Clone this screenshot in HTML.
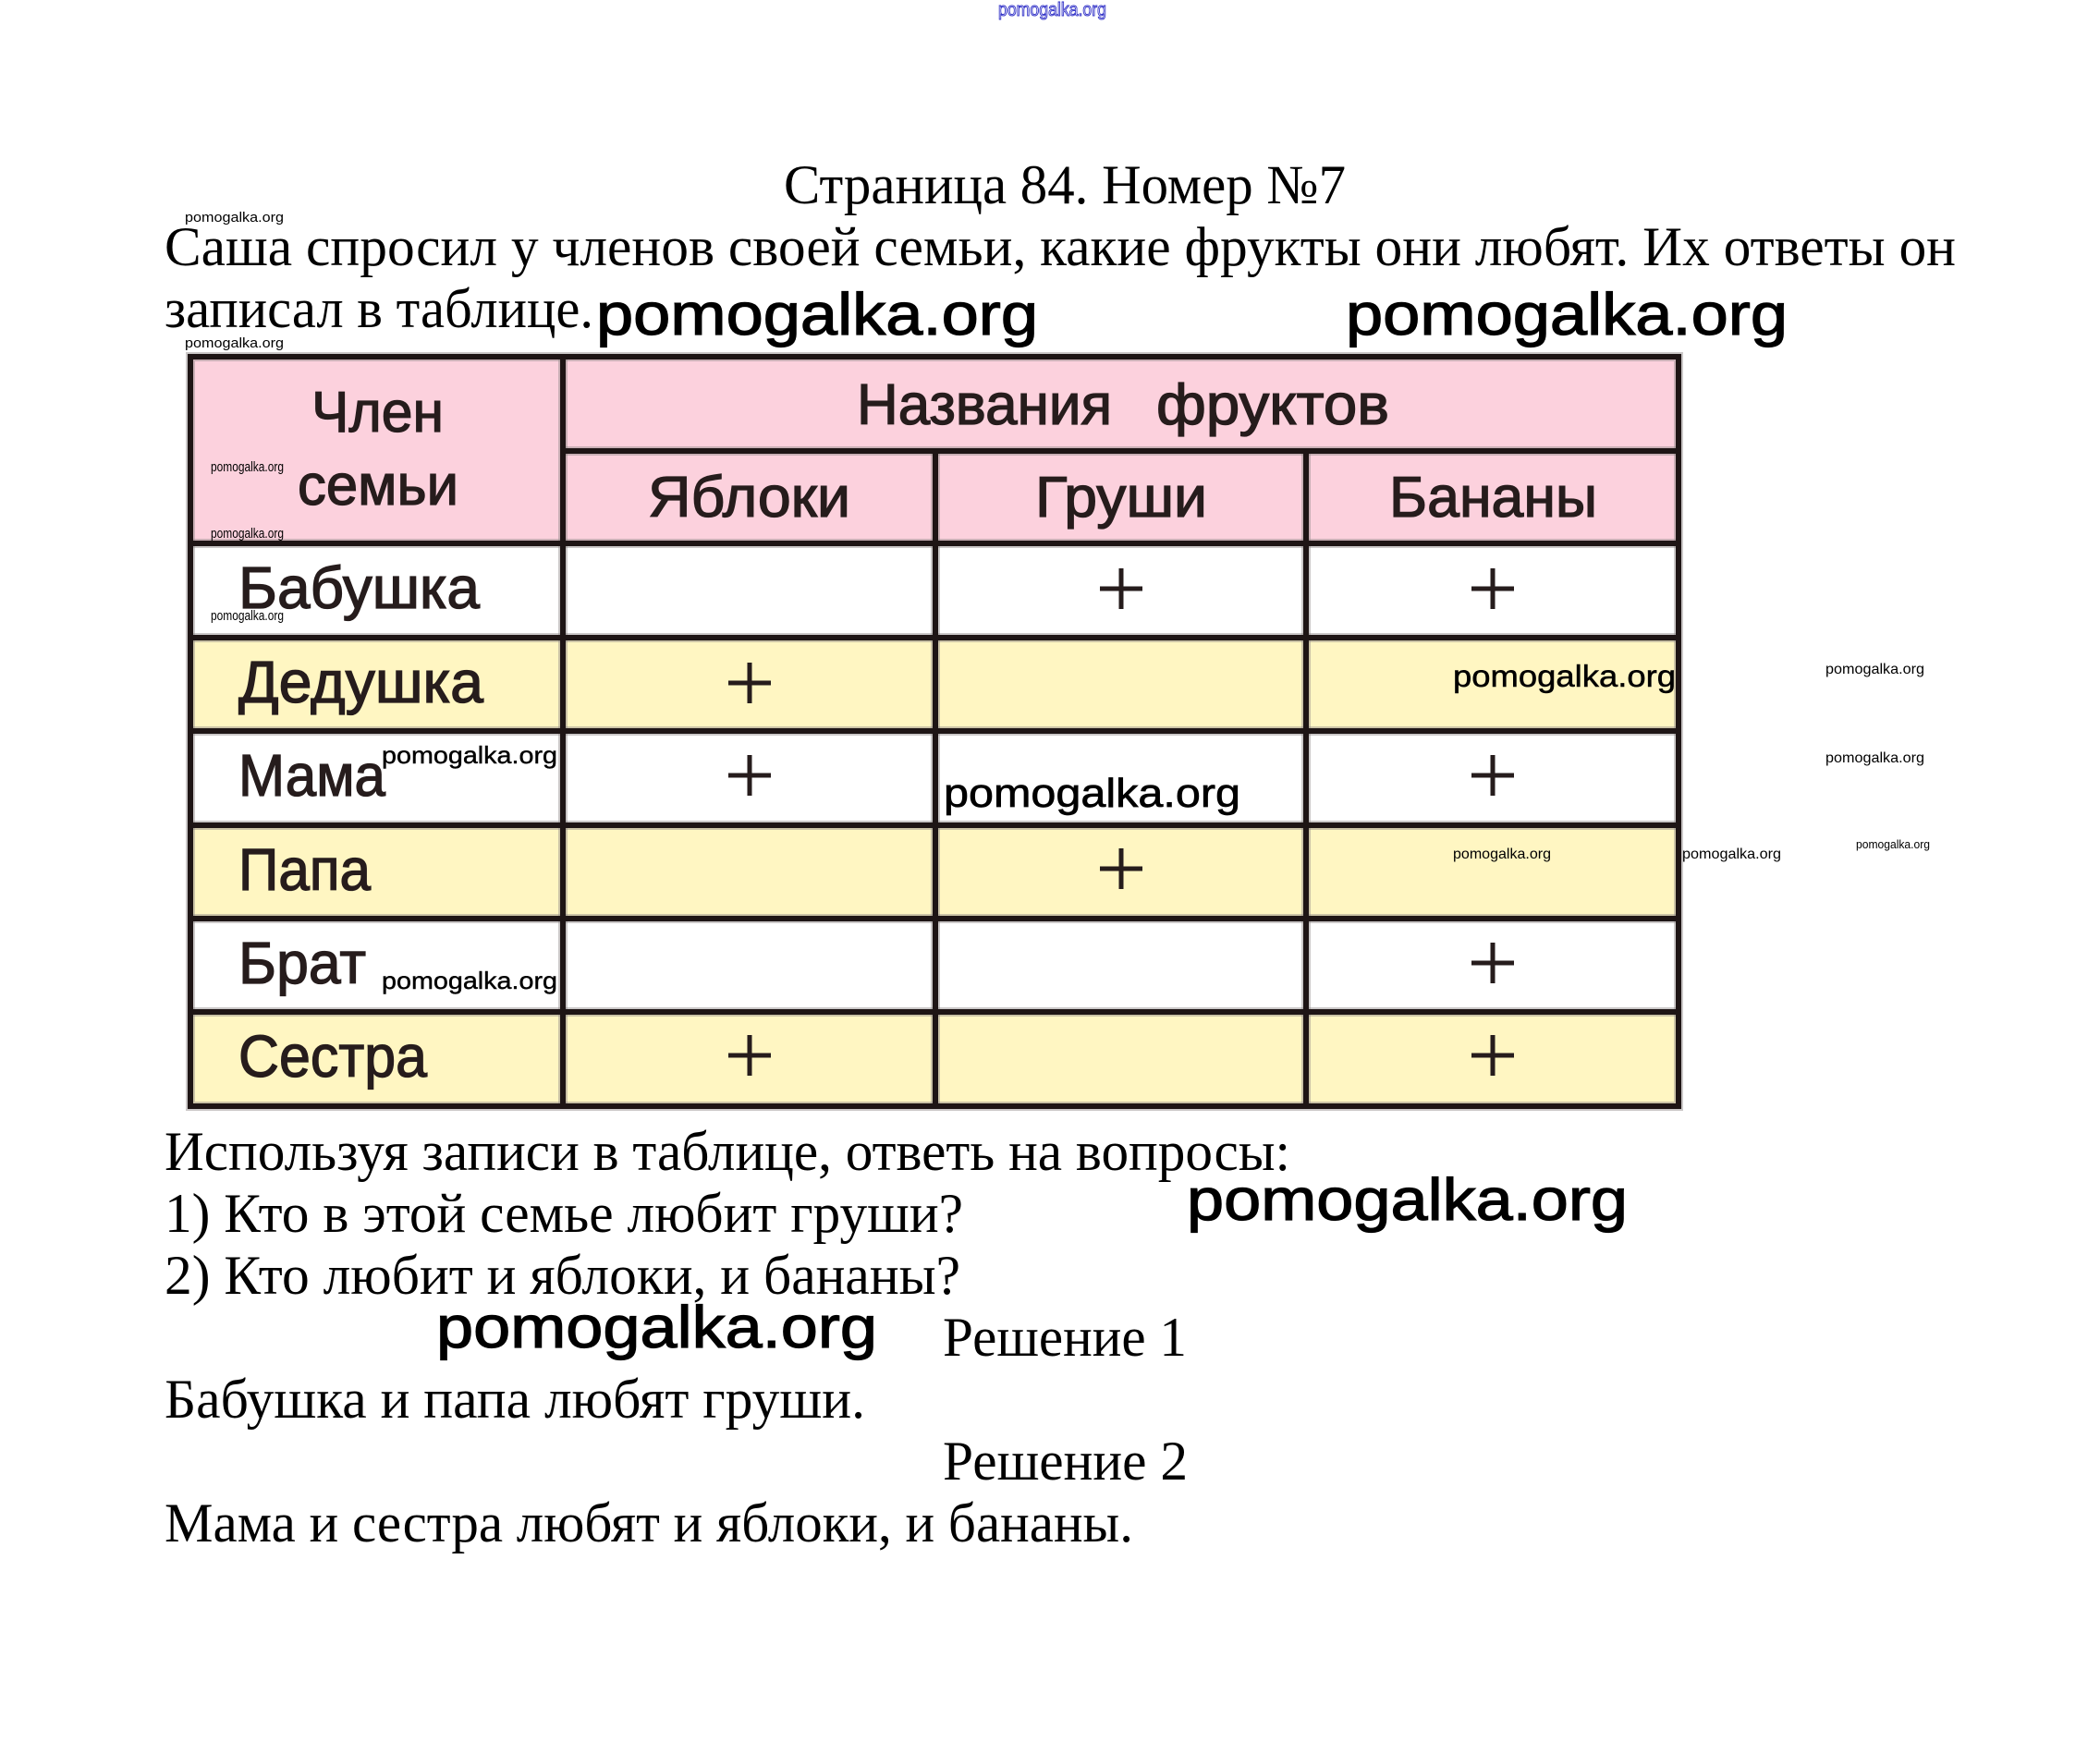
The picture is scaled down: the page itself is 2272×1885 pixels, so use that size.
<!DOCTYPE html>
<html>
<head>
<meta charset="utf-8">
<style>
  html, body { margin:0; padding:0; background:#ffffff; }
  body { width:2272px; height:1885px; overflow:hidden; }
  svg { display:block; }
  .serif { font-family:"Liberation Serif", "Noto Serif CJK SC", serif; fill:#000; }
  .wm { font-family:"Liberation Sans", "Noto Sans CJK SC", sans-serif; fill:#000; }
  .tb { font-family:"Liberation Sans", "Noto Sans CJK SC", sans-serif; fill:#261c1c; stroke:#261c1c; stroke-width:1.3; }
</style>
</head>
<body>
<svg width="2272" height="1885" viewBox="0 0 2272 1885" xmlns="http://www.w3.org/2000/svg">
  <rect x="0" y="0" width="2272" height="1885" fill="#ffffff"/>

  <!-- top blue watermark -->
  <text class="wm" x="1080" y="17" font-size="20" textLength="117" lengthAdjust="spacingAndGlyphs" style="fill:#ffffff;stroke:#3434c8;stroke-width:1">pomogalka.org</text>

  <!-- Title -->
  <text class="serif" x="848" y="220" font-size="60" textLength="608" lengthAdjust="spacingAndGlyphs">Страница 84. Номер №7</text>

  <!-- small watermark above line 1 -->
  <text class="wm" x="200" y="240" font-size="15" textLength="107" lengthAdjust="spacingAndGlyphs">pomogalka.org</text>

  <!-- Paragraph -->
  <text class="serif" x="178" y="287" font-size="60" textLength="1938" lengthAdjust="spacingAndGlyphs">Саша спросил у членов своей семьи, какие фрукты они любят. Их ответы он</text>
  <text class="serif" x="178" y="354" font-size="60" textLength="464" lengthAdjust="spacingAndGlyphs">записал в таблице.</text>

  <!-- big watermarks line 2 -->
  <text class="wm" x="645" y="362" font-size="64" textLength="478" lengthAdjust="spacingAndGlyphs" stroke="#000" stroke-width="1.2">pomogalka.org</text>
  <text class="wm" x="1456" y="362" font-size="64" textLength="478" lengthAdjust="spacingAndGlyphs" stroke="#000" stroke-width="1.2">pomogalka.org</text>

  <!-- small watermark above table -->
  <text class="wm" x="200" y="376" font-size="15" textLength="107" lengthAdjust="spacingAndGlyphs">pomogalka.org</text>

  <!-- ===== TABLE ===== -->
  <rect x="206" y="386" width="1610" height="202" fill="#fcd1dd"/>
  <rect x="206" y="588" width="1610" height="102" fill="#ffffff"/>
  <rect x="206" y="690" width="1610" height="101" fill="#fff6c2"/>
  <rect x="206" y="791" width="1610" height="102" fill="#ffffff"/>
  <rect x="206" y="893" width="1610" height="101" fill="#fff6c2"/>
  <rect x="206" y="994" width="1610" height="101" fill="#ffffff"/>
  <rect x="206" y="1095" width="1610" height="102" fill="#fff6c2"/>

  <g stroke="#8c8484" stroke-width="10" stroke-opacity="0.45" fill="none">
    <rect x="206" y="386" width="1610" height="811"/>
    <line x1="609" y1="386" x2="609" y2="1197"/>
    <line x1="1012" y1="488" x2="1012" y2="1197"/>
    <line x1="1413" y1="488" x2="1413" y2="1197"/>
    <line x1="609" y1="488" x2="1816" y2="488"/>
    <line x1="206" y1="588" x2="1816" y2="588"/>
    <line x1="206" y1="690" x2="1816" y2="690"/>
    <line x1="206" y1="791" x2="1816" y2="791"/>
    <line x1="206" y1="893" x2="1816" y2="893"/>
    <line x1="206" y1="994" x2="1816" y2="994"/>
    <line x1="206" y1="1095" x2="1816" y2="1095"/>
  </g>
  <g stroke="#1e1515" stroke-width="6" fill="none">
    <rect x="206" y="386" width="1610" height="811"/>
    <line x1="609" y1="386" x2="609" y2="1197"/>
    <line x1="1012" y1="488" x2="1012" y2="1197"/>
    <line x1="1413" y1="488" x2="1413" y2="1197"/>
    <line x1="609" y1="488" x2="1816" y2="488"/>
    <line x1="206" y1="588" x2="1816" y2="588"/>
    <line x1="206" y1="690" x2="1816" y2="690"/>
    <line x1="206" y1="791" x2="1816" y2="791"/>
    <line x1="206" y1="893" x2="1816" y2="893"/>
    <line x1="206" y1="994" x2="1816" y2="994"/>
    <line x1="206" y1="1095" x2="1816" y2="1095"/>
  </g>

  <!-- header text -->
  <text class="tb" x="337" y="467" font-size="62" textLength="143" lengthAdjust="spacingAndGlyphs">Член</text>
  <text class="tb" x="322" y="546" font-size="62" textLength="174" lengthAdjust="spacingAndGlyphs">семьи</text>
  <text class="tb" x="927" y="459" font-size="62" textLength="276" lengthAdjust="spacingAndGlyphs">Названия</text>
  <text class="tb" x="1251" y="459" font-size="62" textLength="252" lengthAdjust="spacingAndGlyphs">фруктов</text>
  <text class="tb" x="701" y="559" font-size="62" textLength="219" lengthAdjust="spacingAndGlyphs">Яблоки</text>
  <text class="tb" x="1120" y="559" font-size="62" textLength="186" lengthAdjust="spacingAndGlyphs">Груши</text>
  <text class="tb" x="1503" y="559" font-size="62" textLength="225" lengthAdjust="spacingAndGlyphs">Бананы</text>

  <!-- row labels -->
  <text class="tb" x="258" y="658" font-size="64" textLength="261" lengthAdjust="spacingAndGlyphs">Бабушка</text>
  <text class="tb" x="258" y="760" font-size="64" textLength="265" lengthAdjust="spacingAndGlyphs">Дедушка</text>
  <text class="tb" x="258" y="861" font-size="64" textLength="159" lengthAdjust="spacingAndGlyphs">Мама</text>
  <text class="tb" x="258" y="963" font-size="64" textLength="143" lengthAdjust="spacingAndGlyphs">Папа</text>
  <text class="tb" x="258" y="1064" font-size="64" textLength="138" lengthAdjust="spacingAndGlyphs">Брат</text>
  <text class="tb" x="258" y="1165" font-size="64" textLength="204" lengthAdjust="spacingAndGlyphs">Сестра</text>

  <!-- plus signs -->
  <g stroke="#261c1c" stroke-width="5" fill="none">
    <line x1="1190" y1="637" x2="1236" y2="637"/><line x1="1213" y1="615" x2="1213" y2="659"/>
    <line x1="1592" y1="637" x2="1638" y2="637"/><line x1="1615" y1="615" x2="1615" y2="659"/>
    <line x1="788" y1="739" x2="834" y2="739"/><line x1="811" y1="717" x2="811" y2="761"/>
    <line x1="788" y1="839" x2="834" y2="839"/><line x1="811" y1="817" x2="811" y2="861"/>
    <line x1="1592" y1="839" x2="1638" y2="839"/><line x1="1615" y1="817" x2="1615" y2="861"/>
    <line x1="1190" y1="940" x2="1236" y2="940"/><line x1="1213" y1="918" x2="1213" y2="962"/>
    <line x1="1592" y1="1042" x2="1638" y2="1042"/><line x1="1615" y1="1020" x2="1615" y2="1064"/>
    <line x1="788" y1="1142" x2="834" y2="1142"/><line x1="811" y1="1120" x2="811" y2="1164"/>
    <line x1="1592" y1="1142" x2="1638" y2="1142"/><line x1="1615" y1="1120" x2="1615" y2="1164"/>
  </g>

  <!-- watermarks on table -->
  <text class="wm" x="228" y="510" font-size="15" textLength="79" lengthAdjust="spacingAndGlyphs">pomogalka.org</text>
  <text class="wm" x="228" y="582" font-size="15" textLength="79" lengthAdjust="spacingAndGlyphs">pomogalka.org</text>
  <text class="wm" x="228" y="671" font-size="15" textLength="79" lengthAdjust="spacingAndGlyphs">pomogalka.org</text>

  <text class="wm" x="1572" y="743" font-size="33" textLength="241" lengthAdjust="spacingAndGlyphs" stroke="#000" stroke-width="0.5">pomogalka.org</text>
  <text class="wm" x="1975" y="729" font-size="16" textLength="107" lengthAdjust="spacingAndGlyphs">pomogalka.org</text>
  <text class="wm" x="1975" y="825" font-size="16" textLength="107" lengthAdjust="spacingAndGlyphs">pomogalka.org</text>

  <text class="wm" x="413" y="826" font-size="26" textLength="190" lengthAdjust="spacingAndGlyphs" stroke="#000" stroke-width="0.4">pomogalka.org</text>
  <text class="wm" x="1021" y="873" font-size="44" textLength="321" lengthAdjust="spacingAndGlyphs" stroke="#000" stroke-width="0.7">pomogalka.org</text>

  <text class="wm" x="1572" y="929" font-size="16" textLength="106" lengthAdjust="spacingAndGlyphs">pomogalka.org</text>
  <text class="wm" x="1820" y="929" font-size="16" textLength="107" lengthAdjust="spacingAndGlyphs">pomogalka.org</text>
  <text class="wm" x="2008" y="918" font-size="13" textLength="80" lengthAdjust="spacingAndGlyphs">pomogalka.org</text>

  <text class="wm" x="413" y="1070" font-size="26" textLength="190" lengthAdjust="spacingAndGlyphs" stroke="#000" stroke-width="0.4">pomogalka.org</text>

  <!-- ===== BOTTOM TEXT ===== -->
  <text class="serif" x="178" y="1266" font-size="60" textLength="1218" lengthAdjust="spacingAndGlyphs">Используя записи в таблице, ответь на вопросы:</text>
  <text class="serif" x="178" y="1333" font-size="60" textLength="864" lengthAdjust="spacingAndGlyphs">1) Кто в этой семье любит груши?</text>
  <text class="serif" x="178" y="1400" font-size="60" textLength="861" lengthAdjust="spacingAndGlyphs">2) Кто любит и яблоки, и бананы?</text>

  <text class="wm" x="1284" y="1320" font-size="64" textLength="477" lengthAdjust="spacingAndGlyphs" stroke="#000" stroke-width="1.2">pomogalka.org</text>
  <text class="wm" x="472" y="1458" font-size="64" textLength="477" lengthAdjust="spacingAndGlyphs" stroke="#000" stroke-width="1.2">pomogalka.org</text>

  <text class="serif" x="1020" y="1467" font-size="60" textLength="264" lengthAdjust="spacingAndGlyphs">Решение 1</text>
  <text class="serif" x="178" y="1534" font-size="60" textLength="758" lengthAdjust="spacingAndGlyphs">Бабушка и папа любят груши.</text>
  <text class="serif" x="1020" y="1601" font-size="60" textLength="265" lengthAdjust="spacingAndGlyphs">Решение 2</text>
  <text class="serif" x="178" y="1668" font-size="60" textLength="1048" lengthAdjust="spacingAndGlyphs">Мама и сестра любят и яблоки, и бананы.</text>
</svg>
</body>
</html>
